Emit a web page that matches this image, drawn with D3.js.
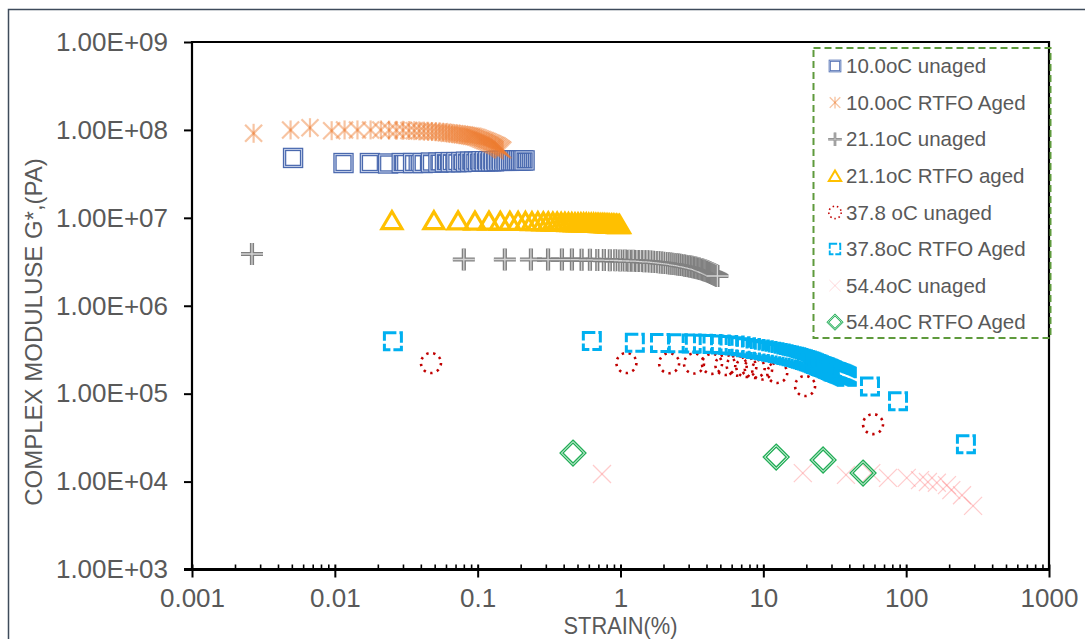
<!DOCTYPE html>
<html>
<head>
<meta charset="utf-8">
<script src="https://cdn.jsdelivr.net/npm/d3@7"></script>
<style>
  html, body { margin: 0; padding: 0; background: #fff; }
  svg { display: block; font-family: "Liberation Sans", Arial, sans-serif; }
</style>
</head>
<body>
<svg id="chart" width="1085" height="639"></svg>
<script>
// ---- axis ticks ----
const xTickValues = [0.001, 0.01, 0.1, 1, 10, 100, 1000];
const xTickLabels = ["0.001", "0.01", "0.1", "1", "10", "100", "1000"];
const yTickValues = [1e3, 1e4, 1e5, 1e6, 1e7, 1e8, 1e9];
const yTickLabels = ["1.00E+03", "1.00E+04", "1.00E+05", "1.00E+06", "1.00E+07", "1.00E+08", "1.00E+09"];

// ---- 10.0 oC unaged ----
const strain10Unaged = [0.0051, 0.0115, 0.0176, 0.0236, 0.0294, 0.0353, 0.0412, 0.0471, 0.0531, 0.0590,
  0.0649, 0.0709, 0.0768, 0.0828, 0.0887, 0.0946, 0.1006, 0.1065, 0.1124, 0.1184,
  0.1243, 0.1302, 0.1362, 0.1421, 0.1480, 0.1540, 0.1599, 0.1658, 0.1718, 0.1777,
  0.1836, 0.1896, 0.1955, 0.2014, 0.2074, 0.2130];
const modulus10Unaged = [4.8e7, 4.2e7, 4.2e7, 4.15e7, 4.2e7, 4.2e7, 4.2e7, 4.25e7, 4.25e7, 4.3e7,
  4.3e7, 4.3e7, 4.3e7, 4.35e7, 4.35e7, 4.35e7, 4.35e7, 4.4e7, 4.4e7, 4.4e7,
  4.4e7, 4.4e7, 4.45e7, 4.45e7, 4.45e7, 4.45e7, 4.45e7, 4.45e7, 4.5e7, 4.5e7,
  4.5e7, 4.5e7, 4.5e7, 4.5e7, 4.5e7, 4.5e7];

// ---- 10.0 oC RTFO aged ----
const strain10Aged = [0.0027, 0.0049, 0.0067, 0.0095, 0.0117, 0.0144, 0.0178, 0.0210, 0.0240, 0.0270,
  0.0300, 0.0330, 0.0360, 0.0390, 0.0420, 0.0450, 0.0480, 0.0510, 0.0540, 0.0570,
  0.0600, 0.0630, 0.0660, 0.0690, 0.0720, 0.0750, 0.0780, 0.0810, 0.0840, 0.0870,
  0.0900, 0.0930, 0.0960, 0.0990, 0.1020, 0.1050, 0.1080, 0.1110, 0.1140, 0.1170,
  0.1200, 0.1230, 0.1260, 0.1290, 0.1320, 0.1350, 0.1380, 0.1410, 0.1440, 0.1470, 0.1500];
const modulus10Aged = [9.15e7, 1.0e8, 1.06e8, 9.8e7, 1.0e8, 1.0e8, 1.0e8, 1.0e8, 9.95e7, 9.9e7,
  9.9e7, 9.85e7, 9.8e7, 9.75e7, 9.7e7, 9.65e7, 9.6e7, 9.55e7, 9.5e7, 9.4e7,
  9.3e7, 9.2e7, 9.15e7, 9.05e7, 9.0e7, 8.9e7, 8.8e7, 8.75e7, 8.65e7, 8.6e7,
  8.5e7, 8.45e7, 8.3e7, 8.2e7, 8.05e7, 7.9e7, 7.75e7, 7.6e7, 7.5e7, 7.4e7,
  7.25e7, 7.1e7, 7.0e7, 6.85e7, 6.75e7, 6.65e7, 6.5e7, 6.35e7, 6.2e7, 6.05e7, 5.9e7];

// ---- 21.1 oC unaged ----
const strain21Unaged = [0.00263, 0.080, 0.155, 0.236, 0.311, 0.389, 0.457,
  0.534, 0.611, 0.688, 0.765, 0.842, 0.919, 0.996, 1.073, 1.150, 1.227,
  1.304, 1.381, 1.458, 1.535, 1.612, 1.689, 1.766, 1.843, 1.920, 1.997,
  2.074, 2.151, 2.228, 2.305, 2.382, 2.459, 2.536, 2.613, 2.690, 2.767,
  2.844, 2.921, 2.998, 3.075, 3.152, 3.229, 3.306, 3.383, 3.460, 3.537,
  3.614, 3.691, 3.768, 3.845, 3.922, 3.999, 4.076, 4.153, 4.230, 4.307,
  4.384, 4.461, 4.538, 4.615, 4.692, 4.769];
const modulus21Unaged = [3.88e6, 3.36e6, 3.36e6, 3.36e6, 3.35e6, 3.35e6, 3.35e6,
  3.34e6, 3.33e6, 3.32e6, 3.31e6, 3.30e6, 3.29e6, 3.28e6, 3.27e6, 3.25e6, 3.24e6,
  3.23e6, 3.22e6, 3.21e6, 3.20e6, 3.18e6, 3.16e6, 3.15e6, 3.13e6, 3.11e6, 3.09e6,
  3.07e6, 3.05e6, 3.03e6, 3.01e6, 2.99e6, 2.97e6, 2.95e6, 2.92e6, 2.90e6, 2.88e6,
  2.86e6, 2.84e6, 2.81e6, 2.79e6, 2.77e6, 2.74e6, 2.72e6, 2.70e6, 2.67e6, 2.65e6,
  2.62e6, 2.60e6, 2.57e6, 2.54e6, 2.51e6, 2.48e6, 2.45e6, 2.42e6, 2.39e6, 2.36e6,
  2.33e6, 2.30e6, 2.27e6, 2.24e6, 2.21e6, 2.18e6];

// ---- 21.1 oC RTFO aged ----
const strain21Aged = [0.0251, 0.0494, 0.0729, 0.0957, 0.1200, 0.1440, 0.1680, 0.1920, 0.2160, 0.2400,
  0.2640, 0.2880, 0.3120, 0.3360, 0.3600, 0.3840, 0.4080, 0.4320, 0.4560, 0.4800,
  0.5040, 0.5280, 0.5520, 0.5760, 0.6000, 0.6240, 0.6480, 0.6720, 0.6960, 0.7200,
  0.7440, 0.7680, 0.7920, 0.8160, 0.8400, 0.8640, 0.8880, 0.9120, 0.9360, 0.9600, 0.9840];
const modulus21Aged = [9.44e6, 9.4e6, 9.35e6, 9.3e6, 9.3e6, 9.25e6, 9.25e6, 9.2e6, 9.2e6, 9.15e6,
  9.15e6, 9.1e6, 9.1e6, 9.05e6, 9.05e6, 9.0e6, 9.0e6, 8.95e6, 8.95e6, 8.9e6,
  8.9e6, 8.9e6, 8.85e6, 8.85e6, 8.8e6, 8.8e6, 8.8e6, 8.75e6, 8.75e6, 8.7e6,
  8.7e6, 8.7e6, 8.65e6, 8.65e6, 8.6e6, 8.6e6, 8.6e6, 8.55e6, 8.55e6, 8.5e6, 8.5e6];

// ---- 37.8 oC unaged ----
const strain37Unaged = [0.0471, 1.10, 2.19, 3.27, 4.37, 5.42, 6.51, 7.60, 8.70, 9.80, 12.5, 19.6, 58.6];
const modulus37Unaged = [2.23e5, 2.23e5, 2.22e5, 2.20e5, 2.18e5, 2.12e5, 2.08e5, 2.01e5, 1.96e5, 1.88e5, 1.72e5, 1.22e5, 4.5e4];

// ---- 37.8 oC RTFO aged ----
const strain37Aged = [0.0255,
  0.63, 1.26, 1.89, 2.52, 3.15, 3.78, 4.41, 5.04, 5.67, 6.30,
  6.93, 7.56, 8.19, 8.82, 9.45, 10.08, 10.71, 11.34, 11.97, 12.60,
  13.23, 13.86, 14.49, 15.12, 15.75, 16.38, 17.01, 17.64, 18.27, 18.90,
  19.53, 20.16, 20.79, 21.42, 22.05, 22.68, 23.31, 23.94, 24.57, 25.20,
  25.83, 26.46, 27.09, 27.72, 28.35, 28.98, 29.61, 30.24, 30.87, 31.50,
  32.13, 32.76, 33.39, 34.02, 34.65, 35.28, 35.91, 36.54, 37.17, 37.80, 38.43,
  55.8, 87.7, 262];
const modulus37Aged = [3.95e5,
  3.97e5, 3.80e5, 3.76e5, 3.74e5, 3.72e5, 3.70e5, 3.67e5, 3.63e5, 3.58e5, 3.52e5,
  3.46e5, 3.38e5, 3.30e5, 3.23e5, 3.17e5, 3.11e5, 3.06e5, 3.00e5, 2.95e5, 2.90e5,
  2.86e5, 2.81e5, 2.76e5, 2.72e5, 2.67e5, 2.63e5, 2.59e5, 2.55e5, 2.50e5, 2.46e5,
  2.42e5, 2.38e5, 2.34e5, 2.30e5, 2.26e5, 2.22e5, 2.18e5, 2.14e5, 2.10e5, 2.07e5,
  2.04e5, 2.01e5, 1.98e5, 1.95e5, 1.92e5, 1.89e5, 1.86e5, 1.83e5, 1.80e5, 1.78e5,
  1.76e5, 1.74e5, 1.72e5, 1.70e5, 1.68e5, 1.66e5, 1.64e5, 1.62e5, 1.60e5, 1.58e5, 1.56e5,
  1.21e5, 8.2e4, 2.65e4];

// ---- 54.4 oC unaged ----
const strain54Unaged = [0.742, 18.9, 37.9, 57.0, 74.6, 101, 125, 142, 164, 193, 207, 246, 294];
const modulus54Unaged = [1.22e4, 1.25e4, 1.19e4, 1.25e4, 1.10e4, 1.10e4, 1.04e4, 9.9e3, 9.7e3, 9.1e3, 8.0e3, 7.0e3, 5.3e3];

// ---- 54.4 oC RTFO aged ----
const strain54Aged = [0.465, 12.3, 26.2, 49.9];
const modulus54Aged = [2.11e4, 1.90e4, 1.76e4, 1.25e4];

const seriesNames = ["10.0oC unaged", "10.0oC RTFO Aged", "21.1oC unaged", "21.1oC RTFO aged",
  "37.8 oC unaged", "37.8oC RTFO Aged", "54.4oC unaged", "54.4oC RTFO Aged"];

// ---- layout ----
const svg = d3.select("#chart");
const plot = { left: 192, right: 1049, top: 42, bottom: 569.5 };
const x = d3.scaleLog().domain([0.001, 1000]).range([plot.left, plot.right]);
const y = d3.scaleLog().domain([1e3, 1e9]).range([plot.bottom, plot.top]);
const textColor = "#595959";

// outer chart border
svg.append("rect")
  .attr("x", 8.5).attr("y", 9.5).attr("width", 1200).attr("height", 800)
  .attr("fill", "none").attr("stroke", "#3E4B5B").attr("stroke-width", 1.5);

// ---- marker shapes ----
function drawMarker(g, kind) {
  switch (kind) {
    case "square":
      g.append("rect").attr("x", -8.5).attr("y", -8.5).attr("width", 17).attr("height", 17)
        .attr("fill", "none").attr("stroke", "#4A69AE").attr("stroke-width", 3.4);
      g.append("rect").attr("x", -8.5).attr("y", -8.5).attr("width", 17).attr("height", 17)
        .attr("fill", "none").attr("stroke", "#C3CFE9").attr("stroke-width", 1);
      break;
    case "star":
      [[0, -9.5, 0, 9.5], [-8.5, -8.5, 8.5, 8.5], [-8.5, 8.5, 8.5, -8.5]].forEach(l => {
        g.append("line").attr("x1", l[0]).attr("y1", l[1]).attr("x2", l[2]).attr("y2", l[3])
          .attr("stroke", "#ED7D31").attr("stroke-width", 2.2).attr("stroke-opacity", 0.45);
      });
      break;
    case "plus":
      g.append("path").attr("d", "M-11,0H11M0,-11V11")
        .attr("stroke", "#808080").attr("stroke-width", 4.2).attr("fill", "none");
      g.append("path").attr("d", "M-11,0H11M0,-11V11")
        .attr("stroke", "#D4D4D4").attr("stroke-width", 1.3).attr("fill", "none");
      break;
    case "triangle":
      g.append("path").attr("d", "M0,-8.5L10,8.5L-10,8.5Z")
        .attr("fill", "none").attr("stroke", "#FFC000").attr("stroke-width", 3.2)
        .attr("stroke-linejoin", "miter");
      break;
    case "dotcircle":
      g.append("circle").attr("r", 10)
        .attr("fill", "none").attr("stroke", "#C00000").attr("stroke-width", 2.6)
        .attr("stroke-dasharray", "2.4 4.6");
      break;
    case "dashsquare":
      g.append("path").attr("d", "M-8.5,-8.5H8.5V8.5H-8.5Z")
        .attr("fill", "none").attr("stroke", "#00B0F0").attr("stroke-width", 3)
        .attr("stroke-dasharray", "12 3");
      break;
    case "cross":
      [[-9, -9, 9, 9], [-9, 9, 9, -9]].forEach(l => {
        g.append("line").attr("x1", l[0]).attr("y1", l[1]).attr("x2", l[2]).attr("y2", l[3])
          .attr("stroke", "#FF7C80").attr("stroke-width", 1.2).attr("stroke-opacity", 0.4);
      });
      break;
    case "diamond":
      g.append("path").attr("d", "M0,-11.5L11.5,0L0,11.5L-11.5,0Z")
        .attr("fill", "none").attr("stroke", "#22AE57").attr("stroke-width", 3.4);
      g.append("path").attr("d", "M0,-11.5L11.5,0L0,11.5L-11.5,0Z")
        .attr("fill", "none").attr("stroke", "#FFFFFF").attr("stroke-width", 1);
      break;
  }
}

const series = [
  { name: seriesNames[0], xs: strain10Unaged, ys: modulus10Unaged, kind: "square" },
  { name: seriesNames[1], xs: strain10Aged, ys: modulus10Aged, kind: "star" },
  { name: seriesNames[2], xs: strain21Unaged, ys: modulus21Unaged, kind: "plus" },
  { name: seriesNames[3], xs: strain21Aged, ys: modulus21Aged, kind: "triangle" },
  { name: seriesNames[4], xs: strain37Unaged, ys: modulus37Unaged, kind: "dotcircle" },
  { name: seriesNames[5], xs: strain37Aged, ys: modulus37Aged, kind: "dashsquare" },
  { name: seriesNames[6], xs: strain54Unaged, ys: modulus54Unaged, kind: "cross" },
  { name: seriesNames[7], xs: strain54Aged, ys: modulus54Aged, kind: "diamond" }
];

// ---- axes ----
const xAxisG = svg.append("g").attr("transform", `translate(0,${plot.bottom})`);
xAxisG.call(d3.axisBottom(x).tickValues(xTickValues)
  .tickFormat((d, i) => xTickLabels[i]).tickSize(8).tickPadding(11));
xAxisG.select(".domain").remove();
xAxisG.selectAll(".tick line").attr("y1", -5).attr("stroke", "#000").attr("stroke-width", 2);
xAxisG.selectAll(".tick text").attr("fill", textColor).attr("font-size", 26)
  .attr("font-family", "Liberation Sans, Arial, sans-serif");

// minor ticks inside the plot along the strain axis
const xMinor = [];
xTickValues.slice(0, -1).forEach(d => { for (let k = 2; k <= 9; k++) xMinor.push(d * k); });
const xMinorG = svg.append("g").attr("transform", `translate(0,${plot.bottom})`);
xMinorG.call(d3.axisBottom(x).tickValues(xMinor).tickFormat("").tickSize(-5));
xMinorG.select(".domain").remove();
xMinorG.selectAll(".tick line").attr("stroke", "#000").attr("stroke-width", 1.6);

const yAxisG = svg.append("g").attr("transform", `translate(${plot.left},0)`);
yAxisG.call(d3.axisLeft(y).tickValues(yTickValues)
  .tickFormat((d, i) => yTickLabels[i]).tickSize(8).tickPadding(16));
yAxisG.select(".domain").remove();
yAxisG.selectAll(".tick line").attr("stroke", "#000").attr("stroke-width", 2);
yAxisG.selectAll(".tick text").attr("fill", textColor).attr("font-size", 26)
  .attr("font-family", "Liberation Sans, Arial, sans-serif");

// plot frame
svg.append("path")
  .attr("d", `M${plot.left},${plot.bottom}V${plot.top}H${plot.right}V${plot.bottom}`)
  .attr("fill", "none").attr("stroke", "#000").attr("stroke-width", 2.2);
svg.append("line")
  .attr("x1", plot.left - 8).attr("x2", plot.right)
  .attr("y1", plot.bottom).attr("y2", plot.bottom)
  .attr("stroke", "#000").attr("stroke-width", 3);

// ---- data points ----
series.forEach(s => {
  svg.append("g").attr("class", "series")
    .selectAll("g")
    .data(d3.zip(s.xs, s.ys))
    .join("g")
    .attr("transform", d => `translate(${x(d[0])},${y(d[1])})`)
    .each(function () { drawMarker(d3.select(this), s.kind); });
});

// ---- axis titles ----
svg.append("text")
  .attr("transform", `translate(${(plot.left + plot.right) / 2},633.5) scale(0.95,1)`)
  .attr("text-anchor", "middle").attr("fill", textColor)
  .attr("font-size", 23).text("STRAIN(%)");

svg.append("text")
  .attr("transform", "translate(42,332) rotate(-90)")
  .attr("text-anchor", "middle").attr("fill", textColor)
  .attr("font-size", 24).text("COMPLEX MODULUSE G*,(PA)");

// ---- legend ----
const legend = svg.append("g");
legend.append("rect")
  .attr("x", 813.5).attr("y", 48).attr("width", 237).attr("height", 290)
  .attr("fill", "none").attr("stroke", "#5E9A3C").attr("stroke-width", 2)
  .attr("stroke-dasharray", "7 4");
series.forEach((s, i) => {
  const cy = 66 + i * 36.6;
  const icon = legend.append("g").attr("transform", `translate(835,${cy}) scale(0.62)`);
  drawMarker(icon, s.kind);
  legend.append("text")
    .attr("x", 846).attr("y", cy).attr("dy", "0.35em")
    .attr("fill", textColor).attr("font-size", 20.5).text(s.name);
});
</script>
</body>
</html>
